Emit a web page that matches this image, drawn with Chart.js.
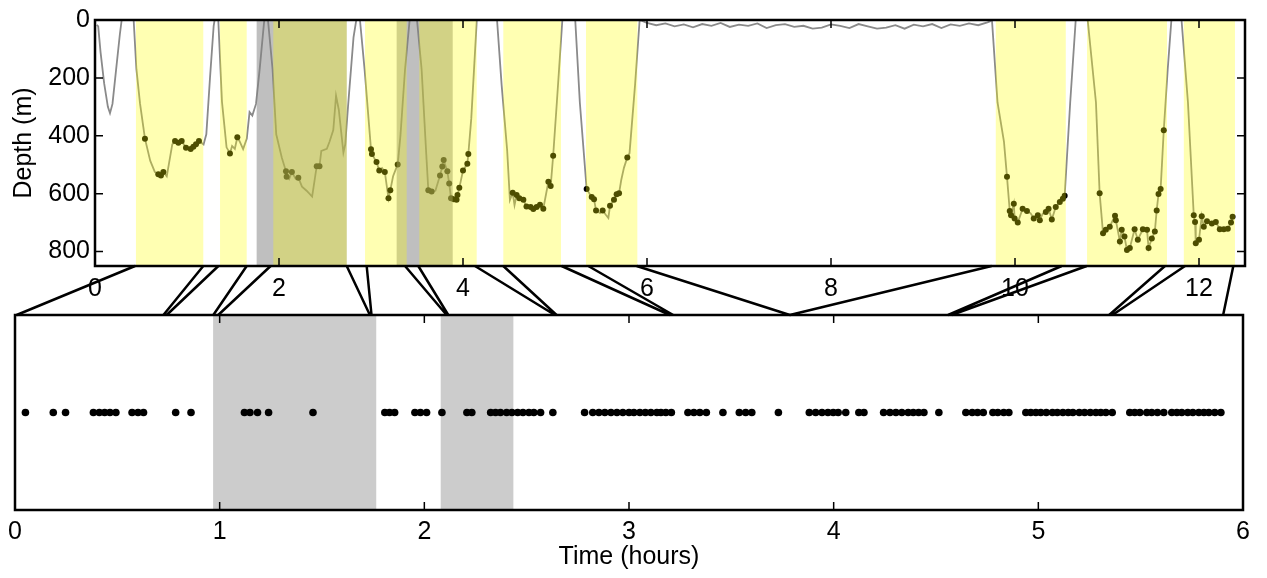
<!DOCTYPE html>
<html>
<head>
<meta charset="utf-8">
<script src="https://cdn.jsdelivr.net/npm/chart.js@4.4.0/dist/chart.umd.min.js"></script>
<style>
  html, body { margin: 0; padding: 0; background: #fff; }
  #wrap { position: relative; width: 1267px; height: 578px; }
  canvas { position: absolute; left: 0; }
  #topChart { top: 0; }
  #bottomChart { top: 260px; }
</style>
</head>
<body>
<div id="wrap">
  <canvas id="topChart" width="1267" height="300"></canvas>
  <canvas id="bottomChart" width="1267" height="318"></canvas>
</div>
<script>
// depth trace (hours, metres)
const depthHours = [
  0.02, 0.035, 0.06, 0.10, 0.14, 0.163, 0.19, 0.23, 0.27, 0.29,
  0.42, 0.45, 0.49, 0.543, 0.60, 0.65, 0.688, 0.717, 0.743, 0.78, 0.84, 0.87, 0.906, 0.942, 0.989, 1.04, 1.069, 1.098, 1.13, 1.18, 1.21, 1.25, 1.29, 1.30,
  1.34, 1.38, 1.43, 1.467, 1.49, 1.52, 1.547, 1.57, 1.61, 1.65, 1.68, 1.71, 1.75, 1.79, 1.84,
  1.88, 1.93, 1.97, 2.03, 2.076, 2.083, 2.11, 2.14, 2.18, 2.21, 2.25, 2.30, 2.36, 2.41, 2.44, 2.46, 2.52, 2.55, 2.59, 2.62, 2.65, 2.70, 2.72, 2.75, 2.81, 2.84,
  2.88, 2.93, 3.0, 3.01, 3.06, 3.09, 3.12, 3.15, 3.19, 3.21, 3.24, 3.29, 3.32, 3.37, 3.42,
  3.50, 3.55, 3.60, 3.623, 3.659, 3.70, 3.75, 3.775, 3.79, 3.83, 3.85, 3.87, 3.90, 3.93, 3.94, 3.96, 4.0, 4.047, 4.058, 4.09, 4.15,
  4.37, 4.42, 4.48, 4.51, 4.54, 4.56, 4.583, 4.612, 4.656, 4.69, 4.735, 4.764, 4.80, 4.837, 4.873, 4.928, 4.953, 4.98, 5.02, 5.08,
  5.22, 5.27, 5.344, 5.399, 5.424, 5.446, 5.49, 5.518, 5.55, 5.58, 5.598, 5.641, 5.670, 5.696, 5.72, 5.75, 5.786, 5.81, 5.87, 5.92,
  6.0, 6.1, 6.2, 6.3, 6.4, 6.5, 6.6, 6.7, 6.8, 6.9, 7.0, 7.1, 7.2, 7.3, 7.4, 7.5, 7.6, 7.7, 7.8, 7.9,
  8.0, 8.1, 8.2, 8.3, 8.4, 8.5, 8.6, 8.7, 8.8, 8.9, 9.0, 9.1, 9.2, 9.3, 9.4, 9.5, 9.6, 9.7, 9.75,
  9.81, 9.88, 9.913, 9.943, 9.957, 9.987, 9.996, 10.03, 10.083, 10.13, 10.17, 10.204, 10.248, 10.27, 10.30, 10.335, 10.365, 10.40, 10.443, 10.487, 10.52, 10.54, 10.60, 10.66,
  10.79, 10.88, 10.92, 10.957, 10.987, 11.03, 11.087, 11.096, 11.12, 11.14, 11.16, 11.19, 11.217, 11.248, 11.30, 11.335, 11.39, 11.435, 11.452, 11.487, 11.52, 11.54, 11.56, 11.583, 11.617, 11.66, 11.70,
  11.81, 11.88, 11.943, 11.957, 11.965, 12.0, 12.03, 12.052, 12.087, 12.14, 12.183, 12.226, 12.27, 12.313, 12.348, 12.365
];
const depthMetres = [
  17, 22, 110, 220, 300, 322, 290, 170, 50, 0,
  0, 170, 290, 410, 486, 525, 533, 537, 525, 540, 430, 418, 424, 418, 441, 446, 438, 429, 418, 430, 395, 200, 20, 0,
  0, 282, 440, 461, 435, 445, 405, 418, 446, 410, 318, 330, 290, 170, 0,
  0, 170, 395, 475, 523, 542, 550, 525, 548, 545, 576, 590, 610, 505, 505, 452, 445, 420, 380, 262, 310, 458, 430, 300, 60, 0,
  0, 170, 447, 463, 491, 520, 512, 525, 616, 588, 540, 499, 400, 170, 0,
  0, 170, 460, 588, 593, 590, 537, 506, 484, 523, 565, 616, 619, 621, 605, 580, 520, 497, 463, 340, 0,
  0, 225, 450, 622, 597, 640, 605, 616, 621, 644, 646, 653, 646, 638, 652, 559, 574, 469, 285, 0,
  0, 285, 584, 612, 619, 658, 667, 658, 672, 684, 642, 621, 602, 599, 553, 510, 475, 460, 225, 0,
  10, 18, 12, 22, 15, 25, 14, 20, 10, 24, 16, 20, 12, 28, 18, 14, 24, 20, 30, 26,
  15, 20, 28, 14, 22, 30, 26, 18, 30, 16, 22, 14, 28, 15, 20, 12, 18, 8, 2,
  285, 420, 542, 660, 675, 635, 686, 700, 652, 660, 668, 686, 675, 692, 670, 663, 652, 689, 646, 629, 618, 607, 285, 0,
  0, 285, 599, 737, 725, 714, 676, 692, 731, 765, 725, 748, 795, 788, 723, 759, 723, 725, 788, 755, 731, 658, 601, 584, 381, 170, 0,
  0, 285, 675, 698, 771, 759, 678, 714, 695, 703, 698, 723, 723, 721, 700, 680
];

// feeding events on the depth trace
const eventHours = [
  0.543, 0.688, 0.717, 0.743, 0.870, 0.906, 0.942, 0.989, 1.04, 1.069, 1.098, 1.13,
  1.467, 1.547,
  2.076, 2.083, 2.14, 2.21, 2.41, 2.44,
  3.0, 3.01, 3.06, 3.09, 3.15, 3.19, 3.21, 3.29,
  3.623, 3.659, 3.75, 3.775, 3.79, 3.83, 3.85, 3.87, 3.90, 3.93, 3.94, 3.96, 4.0, 4.047, 4.058,
  4.54, 4.583, 4.612, 4.656, 4.69, 4.735, 4.764, 4.80, 4.837, 4.873, 4.928, 4.953, 4.98,
  5.344, 5.399, 5.424, 5.446, 5.518, 5.598, 5.641, 5.670, 5.696, 5.786,
  9.913, 9.943, 9.957, 9.987, 9.996, 10.03, 10.083, 10.13, 10.204, 10.248, 10.27, 10.335, 10.365, 10.40, 10.443, 10.487, 10.52, 10.54,
  10.92, 10.957, 10.987, 11.03, 11.087, 11.096, 11.14, 11.16, 11.19, 11.217, 11.248, 11.30, 11.335, 11.39, 11.435, 11.452, 11.487, 11.52, 11.54, 11.56, 11.583, 11.617,
  11.943, 11.957, 11.965, 12.0, 12.03, 12.052, 12.087, 12.14, 12.183, 12.226, 12.27, 12.313, 12.348, 12.365
];
const eventDepth = [
  410, 533, 537, 525, 418, 424, 418, 441, 446, 438, 429, 418,
  461, 405,
  523, 542, 525, 545, 505, 505,
  447, 463, 491, 520, 525, 616, 588, 499,
  588, 593, 537, 506, 484, 523, 565, 616, 619, 621, 605, 580, 520, 497, 463,
  597, 605, 616, 621, 644, 646, 653, 646, 638, 652, 559, 574, 469,
  584, 612, 619, 658, 658, 642, 621, 602, 599, 475,
  542, 660, 675, 635, 686, 700, 652, 660, 686, 675, 692, 663, 652, 689, 646, 629, 618, 607,
  599, 737, 725, 714, 676, 692, 765, 725, 748, 795, 788, 723, 759, 723, 725, 788, 755, 731, 658, 601, 584, 381,
  675, 698, 771, 759, 678, 714, 695, 703, 698, 723, 723, 721, 700, 680
];

// shaded periods on the depth plot
const diveStart = [0.445, 1.359, 1.938, 2.935, 3.525, 4.438, 5.337, 9.791, 10.783, 11.835];
const diveEnd   = [1.177, 1.649, 2.736, 3.388, 4.149, 5.065, 5.895, 10.552, 11.652, 12.391];
const greyStart = [1.757, 3.279];
const greyEnd   = [2.736, 3.888];

// zoom links: position on the depth plot -> position on the bottom strip
const linkTop    = [0.435, 1.177, 1.341, 1.649, 1.909, 2.736, 2.953, 3.37, 3.514, 4.13, 4.438, 5.072, 5.362, 5.888, 9.746, 10.507, 10.779, 11.63, 11.848, 12.373];
const linkBottom = [0.008, 0.725, 0.741, 0.969, 0.993, 1.734, 1.742, 2.109, 2.117, 2.638, 2.646, 3.20, 3.216, 3.786, 3.786, 4.559, 4.576, 5.346, 5.362, 5.903];

// events on the concatenated time axis
const stripHours = [
  0.051, 0.187, 0.247, 0.383, 0.412, 0.438, 0.464, 0.493, 0.572, 0.601, 0.628, 0.785, 0.860,
  1.121, 1.148, 1.185, 1.239, 1.456, 1.807, 1.830, 1.855, 1.954, 1.981, 2.011, 2.086, 2.208, 2.232,
  2.324, 2.348, 2.372, 2.402, 2.428, 2.456, 2.482, 2.511, 2.535, 2.568, 2.628,
  2.783, 2.823, 2.853, 2.882, 2.912, 2.941, 2.970, 3.000, 3.024, 3.053, 3.080, 3.107, 3.136, 3.156, 3.180, 3.207,
  3.288, 3.317, 3.346, 3.378, 3.459, 3.539, 3.570, 3.600, 3.730,
  3.881, 3.912, 3.943, 3.972, 3.998, 4.022, 4.059, 4.123, 4.148,
  4.244, 4.275, 4.304, 4.333, 4.364, 4.389, 4.415, 4.441, 4.514,
  4.646, 4.677, 4.703, 4.731, 4.778, 4.802, 4.831, 4.856, 4.939, 4.963, 4.988, 5.012, 5.039, 5.069, 5.093,
  5.120, 5.146, 5.169, 5.200, 5.226, 5.254, 5.281, 5.305, 5.330, 5.361,
  5.447, 5.471, 5.496, 5.530, 5.554, 5.582, 5.613, 5.652, 5.677, 5.701, 5.730, 5.755, 5.784, 5.809, 5.833, 5.862, 5.892
];
const stripGreyStart = [0.968, 2.08];
const stripGreyEnd   = [1.765, 2.435];

const topHourTicks = [0, 2, 4, 6, 8, 10, 12];
const depthTicks = [0, 200, 400, 600, 800];
const stripHourTicks = [0, 1, 2, 3, 4, 5, 6];

Chart.defaults.font.family = '"Liberation Sans", Arial, sans-serif';
Chart.defaults.font.size = 25;
Chart.defaults.color = '#000';

const BOTTOM_OFFSET = 260;

function drawFrame(chart, xTicks, yTicks) {
  const { ctx, chartArea: a, scales } = chart;
  ctx.save();
  ctx.strokeStyle = '#000';
  ctx.lineWidth = 1.5;
  ctx.beginPath();
  xTicks.forEach(v => {
    const px = scales.x.getPixelForValue(v);
    ctx.moveTo(px, a.bottom); ctx.lineTo(px, a.bottom - 8);
    ctx.moveTo(px, a.top); ctx.lineTo(px, a.top + 8);
  });
  yTicks.forEach(v => {
    const py = scales.y.getPixelForValue(v);
    ctx.moveTo(a.left, py); ctx.lineTo(a.left + 8, py);
    ctx.moveTo(a.right, py); ctx.lineTo(a.right - 8, py);
  });
  ctx.stroke();
  ctx.lineWidth = 2.5;
  ctx.strokeRect(a.left, a.top, a.right - a.left, a.bottom - a.top);
  ctx.restore();
}

const topShading = {
  id: 'topShading',
  afterDatasetsDraw(chart) {
    const { ctx, chartArea: a, scales: { x } } = chart;
    ctx.save();
    ctx.fillStyle = 'rgba(128,128,128,0.5)';
    greyStart.forEach((s, i) => {
      const x0 = x.getPixelForValue(s), x1 = x.getPixelForValue(greyEnd[i]);
      ctx.fillRect(x0, a.top, x1 - x0, a.bottom - a.top);
    });
    ctx.fillStyle = 'rgba(255,255,0,0.3)';
    diveStart.forEach((s, i) => {
      const x0 = x.getPixelForValue(s), x1 = x.getPixelForValue(diveEnd[i]);
      ctx.fillRect(x0, a.top, x1 - x0, a.bottom - a.top);
    });
    ctx.restore();
  },
  afterDraw(chart) {
    drawFrame(chart, topHourTicks, depthTicks);
  }
};

const topChart = new Chart(document.getElementById('topChart'), {
  type: 'scatter',
  data: {
    datasets: [
      {
        data: eventHours.map((t, i) => ({ x: t, y: eventDepth[i] })),
        pointRadius: 3,
        pointBackgroundColor: '#000',
        pointBorderWidth: 0,
        order: 0
      },
      {
        data: depthHours.map((t, i) => ({ x: t, y: depthMetres[i] })),
        showLine: true,
        borderColor: '#8a8a8a',
        borderWidth: 1.8,
        pointRadius: 0,
        tension: 0,
        order: 1
      }
    ]
  },
  options: {
    responsive: false,
    animation: false,
    devicePixelRatio: 1,
    layout: { padding: { top: 15, left: 0, right: 22, bottom: 0 } },
    plugins: { legend: { display: false }, tooltip: { enabled: false } },
    scales: {
      x: {
        type: 'linear',
        min: 0,
        max: 12.5,
        grid: { display: false, drawTicks: false },
        border: { display: false },
        ticks: { padding: 8, maxRotation: 0, autoSkip: false },
        afterBuildTicks: s => { s.ticks = topHourTicks.map(v => ({ value: v })); },
        afterFit: s => { s.height = 34; }
      },
      y: {
        type: 'linear',
        reverse: true,
        min: 0,
        max: 850,
        grid: { display: false, drawTicks: false },
        border: { display: false },
        ticks: { padding: 5 },
        afterBuildTicks: s => { s.ticks = depthTicks.map(v => ({ value: v })); },
        title: { display: true, text: 'Depth (m)', padding: { top: 9, bottom: 0 } },
        afterFit: s => { s.width = 95; }
      }
    }
  },
  plugins: [topShading]
});

const stripDecor = {
  id: 'stripDecor',
  beforeDatasetsDraw(chart) {
    const { ctx, chartArea: a, scales: { x } } = chart;
    ctx.save();
    ctx.fillStyle = '#cccccc';
    stripGreyStart.forEach((s, i) => {
      const x0 = x.getPixelForValue(s), x1 = x.getPixelForValue(stripGreyEnd[i]);
      ctx.fillRect(x0, a.top, x1 - x0, a.bottom - a.top);
    });
    ctx.restore();
  },
  afterDraw(chart) {
    drawFrame(chart, stripHourTicks, []);
    // zoom lines from the depth plot down to the strip
    const { ctx, chartArea: a, scales: { x } } = chart;
    const yTop = topChart.chartArea.bottom - BOTTOM_OFFSET;
    ctx.save();
    ctx.strokeStyle = '#000';
    ctx.lineWidth = 2.5;
    ctx.beginPath();
    linkTop.forEach((t, i) => {
      ctx.moveTo(topChart.scales.x.getPixelForValue(t), yTop);
      ctx.lineTo(x.getPixelForValue(linkBottom[i]), a.top);
    });
    ctx.stroke();
    ctx.restore();
  }
};

new Chart(document.getElementById('bottomChart'), {
  type: 'scatter',
  data: {
    datasets: [{
      data: stripHours.map(t => ({ x: t, y: 1 })),
      pointRadius: 3.8,
      pointBackgroundColor: '#000',
      pointBorderWidth: 0
    }]
  },
  options: {
    responsive: false,
    animation: false,
    devicePixelRatio: 1,
    layout: { padding: { top: 55, left: 15, right: 24, bottom: 0 } },
    plugins: { legend: { display: false }, tooltip: { enabled: false } },
    scales: {
      x: {
        type: 'linear',
        min: 0,
        max: 6,
        grid: { display: false, drawTicks: false },
        border: { display: false },
        ticks: { padding: 7, maxRotation: 0, autoSkip: false },
        afterBuildTicks: s => { s.ticks = stripHourTicks.map(v => ({ value: v })); },
        title: { display: true, text: 'Time (hours)', padding: { top: 0, bottom: 6 } },
        afterFit: s => { s.height = 68; }
      },
      y: { display: false, min: 0, max: 2 }
    }
  },
  plugins: [stripDecor]
});
</script>
</body>
</html>
